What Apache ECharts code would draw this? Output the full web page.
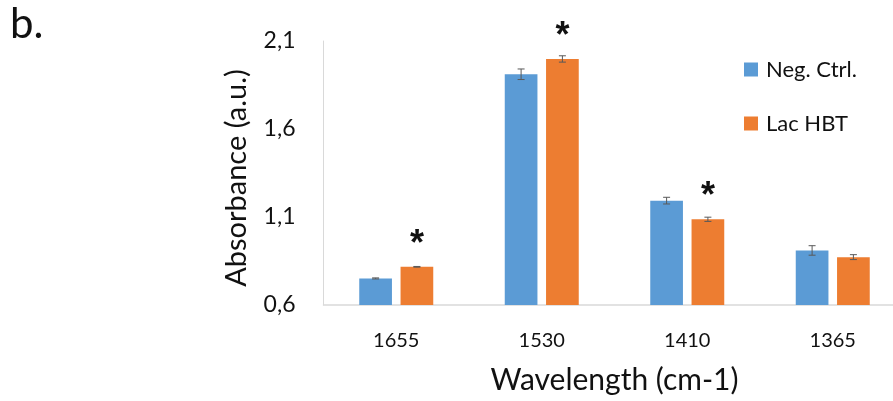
<!DOCTYPE html>
<html>
<head>
<meta charset="utf-8">
<script src="https://cdn.jsdelivr.net/npm/echarts@6/dist/echarts.min.js"></script>
<style>
  html, body { margin: 0; padding: 0; background: #fff; overflow: hidden; }
  #chart { width: 906px; height: 401px; }
</style>
</head>
<body>
<div id="chart"></div>
<script>
// ---- data ----
const categories = ['1655', '1530', '1410', '1365'];
const seriesNames = ['Neg. Ctrl.', 'Lac HBT'];
const negCtrl = [0.751, 1.911, 1.193, 0.910];
const lacHBT = [0.817, 1.998, 1.087, 0.872];
const negCtrlErr = [0.003, 0.030, 0.019, 0.027];
const lacHBTErr = [0.002, 0.018, 0.012, 0.014];
const significance = ['', '', '', ''];
const lacSignificance = ['*', '*', '*', ''];
const yTicks = [0.6, 1.1, 1.6, 2.1];

// ---- style ----
const FONT = 'Lato';
const BLUE = '#5B9BD5';
const ORANGE = '#ED7D31';
const BAR_W = 32.7;
const GAP_PX = 8.6;
const OFFSET = (BAR_W + GAP_PX) / 2;

const chart = echarts.init(document.getElementById('chart'), null, { renderer: 'canvas' });

function errorSeries(name, values, errs, dir) {
  return {
    type: 'custom',
    name: name + ' err',
    z: 5,
    silent: true,
    data: values.map((v, i) => [i, v, errs[i]]),
    renderItem: function (params, api) {
      const i = api.value(0), v = api.value(1), e = api.value(2);
      const hi = api.coord([i, v + e]);
      const lo = api.coord([i, v - e]);
      const x = hi[0] + dir * OFFSET;
      const cap = 3.5;
      const style = { stroke: '#595959', lineWidth: 1 };
      return {
        type: 'group',
        children: [
          { type: 'line', shape: { x1: x, y1: hi[1], x2: x, y2: lo[1] }, style: style },
          { type: 'line', shape: { x1: x - cap, y1: hi[1], x2: x + cap, y2: hi[1] }, style: style },
          { type: 'line', shape: { x1: x - cap, y1: lo[1], x2: x + cap, y2: lo[1] }, style: style }
        ]
      };
    }
  };
}

const option = {
  animation: false,
  backgroundColor: '#fff',
  textStyle: { fontFamily: FONT },
  grid: { left: 323.5, top: 41, width: 582, height: 264, containLabel: false },
  legend: {
    data: seriesNames.map(n => ({ name: n, icon: 'rect' })),
    orient: 'vertical',
    left: 744,
    top: 58.5,
    padding: 0,
    itemWidth: 14,
    itemHeight: 14,
    itemGap: 32,
    textStyle: { fontFamily: FONT, fontSize: 22, color: '#111', padding: [0, 0, 0, 3] },
    selectedMode: false
  },
  xAxis: {
    type: 'category',
    data: categories,
    axisLine: { show: true, lineStyle: { color: '#d9d9d9', width: 1.5 } },
    axisTick: { show: false },
    axisLabel: { color: '#111', fontSize: 20, fontFamily: FONT, margin: 26 },
    name: 'Wavelength (cm-1)',
    nameLocation: 'middle',
    nameGap: 60,
    nameTextStyle: { color: '#111', fontSize: 30, fontFamily: FONT }
  },
  yAxis: {
    type: 'value',
    min: 0.6,
    max: 2.1,
    interval: 0.5,
    axisLine: { show: true, lineStyle: { color: '#d9d9d9', width: 1 } },
    axisTick: { show: false },
    splitLine: { show: false },
    axisLabel: {
      color: '#111', fontSize: 23, fontFamily: FONT, margin: 28,
      formatter: v => v.toFixed(1).replace('.', ',')
    },
    name: 'Absorbance (a.u.)',
    nameLocation: 'middle',
    nameRotate: 90,
    nameGap: 72,
    nameTextStyle: { color: '#111', fontSize: 29, fontFamily: FONT, padding: [0, 10, 0, 0] }
  },
  graphic: [
    { type: 'text', left: 10, top: 3, style: { text: 'b.', font: '42px ' + FONT, fill: '#111' } }
  ],
  series: [
    {
      type: 'bar',
      name: seriesNames[0],
      data: negCtrl,
      barWidth: BAR_W,
      barGap: (GAP_PX / BAR_W * 100) + '%',
      itemStyle: { color: BLUE },
      label: {
        show: true, position: 'top', distance: 5,
        formatter: p => significance[p.dataIndex],
        fontSize: 36, fontWeight: 'bold', color: '#111', fontFamily: 'Liberation Sans'
      }
    },
    {
      type: 'bar',
      name: seriesNames[1],
      data: lacHBT,
      barWidth: BAR_W,
      itemStyle: { color: ORANGE },
      label: {
        show: true, position: 'top', distance: 4,
        formatter: p => lacSignificance[p.dataIndex],
        fontSize: 36, fontWeight: 'bold', color: '#111', fontFamily: 'Liberation Sans'
      }
    },
    errorSeries(seriesNames[0], negCtrl, negCtrlErr, -1),
    errorSeries(seriesNames[1], lacHBT, lacHBTErr, 1)
  ]
};
chart.setOption(option);
</script>
</body>
</html>
